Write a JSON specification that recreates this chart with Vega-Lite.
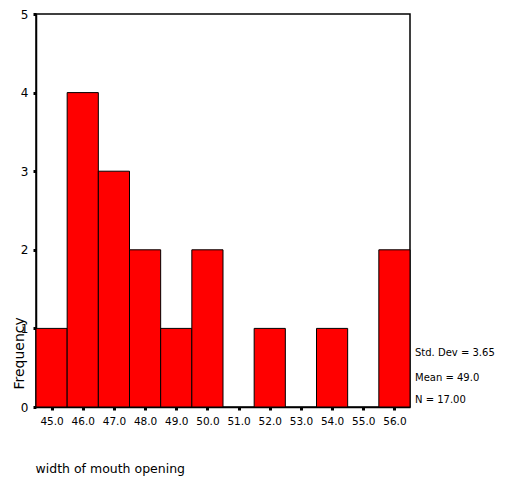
{
  "$schema": "https://vega.github.io/schema/vega-lite/v6.json",
  "width": 374,
  "height": 393,
  "autosize": {"type": "none"},
  "padding": {"left": 36, "top": 14, "right": 95, "bottom": 72},
  "background": "white",
  "config": {
    "view": {"stroke": "black", "strokeWidth": 1.5},
    "font": "DejaVu Sans",
    "axis": {"grid": false, "domainColor": "black", "domainWidth": 1.5, "tickColor": "black", "tickWidth": 3, "tickSize": 3, "labelColor": "black", "titleColor": "black", "labelFont": "DejaVu Sans", "titleFont": "DejaVu Sans", "titleFontWeight": "normal", "labelOverlap": false, "labelFlush": false, "labelBound": false}
  },
  "encoding": {
    "x": {"field": "start", "type": "quantitative", "scale": {"domain": [44.5, 56.5], "nice": false, "zero": false},
      "axis": {"values": [45, 46, 47, 48, 49, 50, 51, 52, 53, 54, 55, 56], "format": ".1f", "labelFontSize": 10.5, "labelPadding": 6, "labelOverlap": false, "labelSeparation": 0,
        "title": "width of mouth opening", "titleFontSize": 12.5, "titleAnchor": "start", "titleAlign": "left", "titleX": -1, "titleY": 65, "titleBaseline": "alphabetic"}},
    "y": {"field": "count", "type": "quantitative", "scale": {"domain": [0, 5], "nice": false},
      "axis": {"values": [0, 1, 2, 3, 4, 5], "format": "d", "labelFontSize": 12, "labelPadding": 5, "labelOverlap": false,
        "title": "Frequency", "titleFontSize": 14, "titleAngle": -90, "titleAlign": "left", "titleBaseline": "middle", "titleX": -17, "titleY": 375}}
  },
  "layer": [
    {
      "data": {"values": [
        {"start": 44.5, "end": 45.5, "count": 1},
        {"start": 45.5, "end": 46.5, "count": 4},
        {"start": 46.5, "end": 47.5, "count": 3},
        {"start": 47.5, "end": 48.5, "count": 2},
        {"start": 48.5, "end": 49.5, "count": 1},
        {"start": 49.5, "end": 50.5, "count": 2},
        {"start": 51.5, "end": 52.5, "count": 1},
        {"start": 53.5, "end": 54.5, "count": 1},
        {"start": 55.5, "end": 56.5, "count": 2}
      ]},
      "mark": {"type": "rect", "fill": "#ff0000", "stroke": "black", "strokeWidth": 1},
      "encoding": {
        "x2": {"field": "end"},
        "y2": {"datum": 0}
      }
    },
    {
      "data": {"values": [
        {"label": "Std. Dev = 3.65", "start": 56.5, "count": 0.687},
        {"label": "Mean = 49.0", "start": 56.5, "count": 0.369},
        {"label": "N = 17.00", "start": 56.5, "count": 0.089}
      ]},
      "mark": {"type": "text", "align": "left", "baseline": "middle", "dx": 5, "fontSize": 10, "color": "black"},
      "encoding": {
        "text": {"field": "label"}
      }
    }
  ]
}
